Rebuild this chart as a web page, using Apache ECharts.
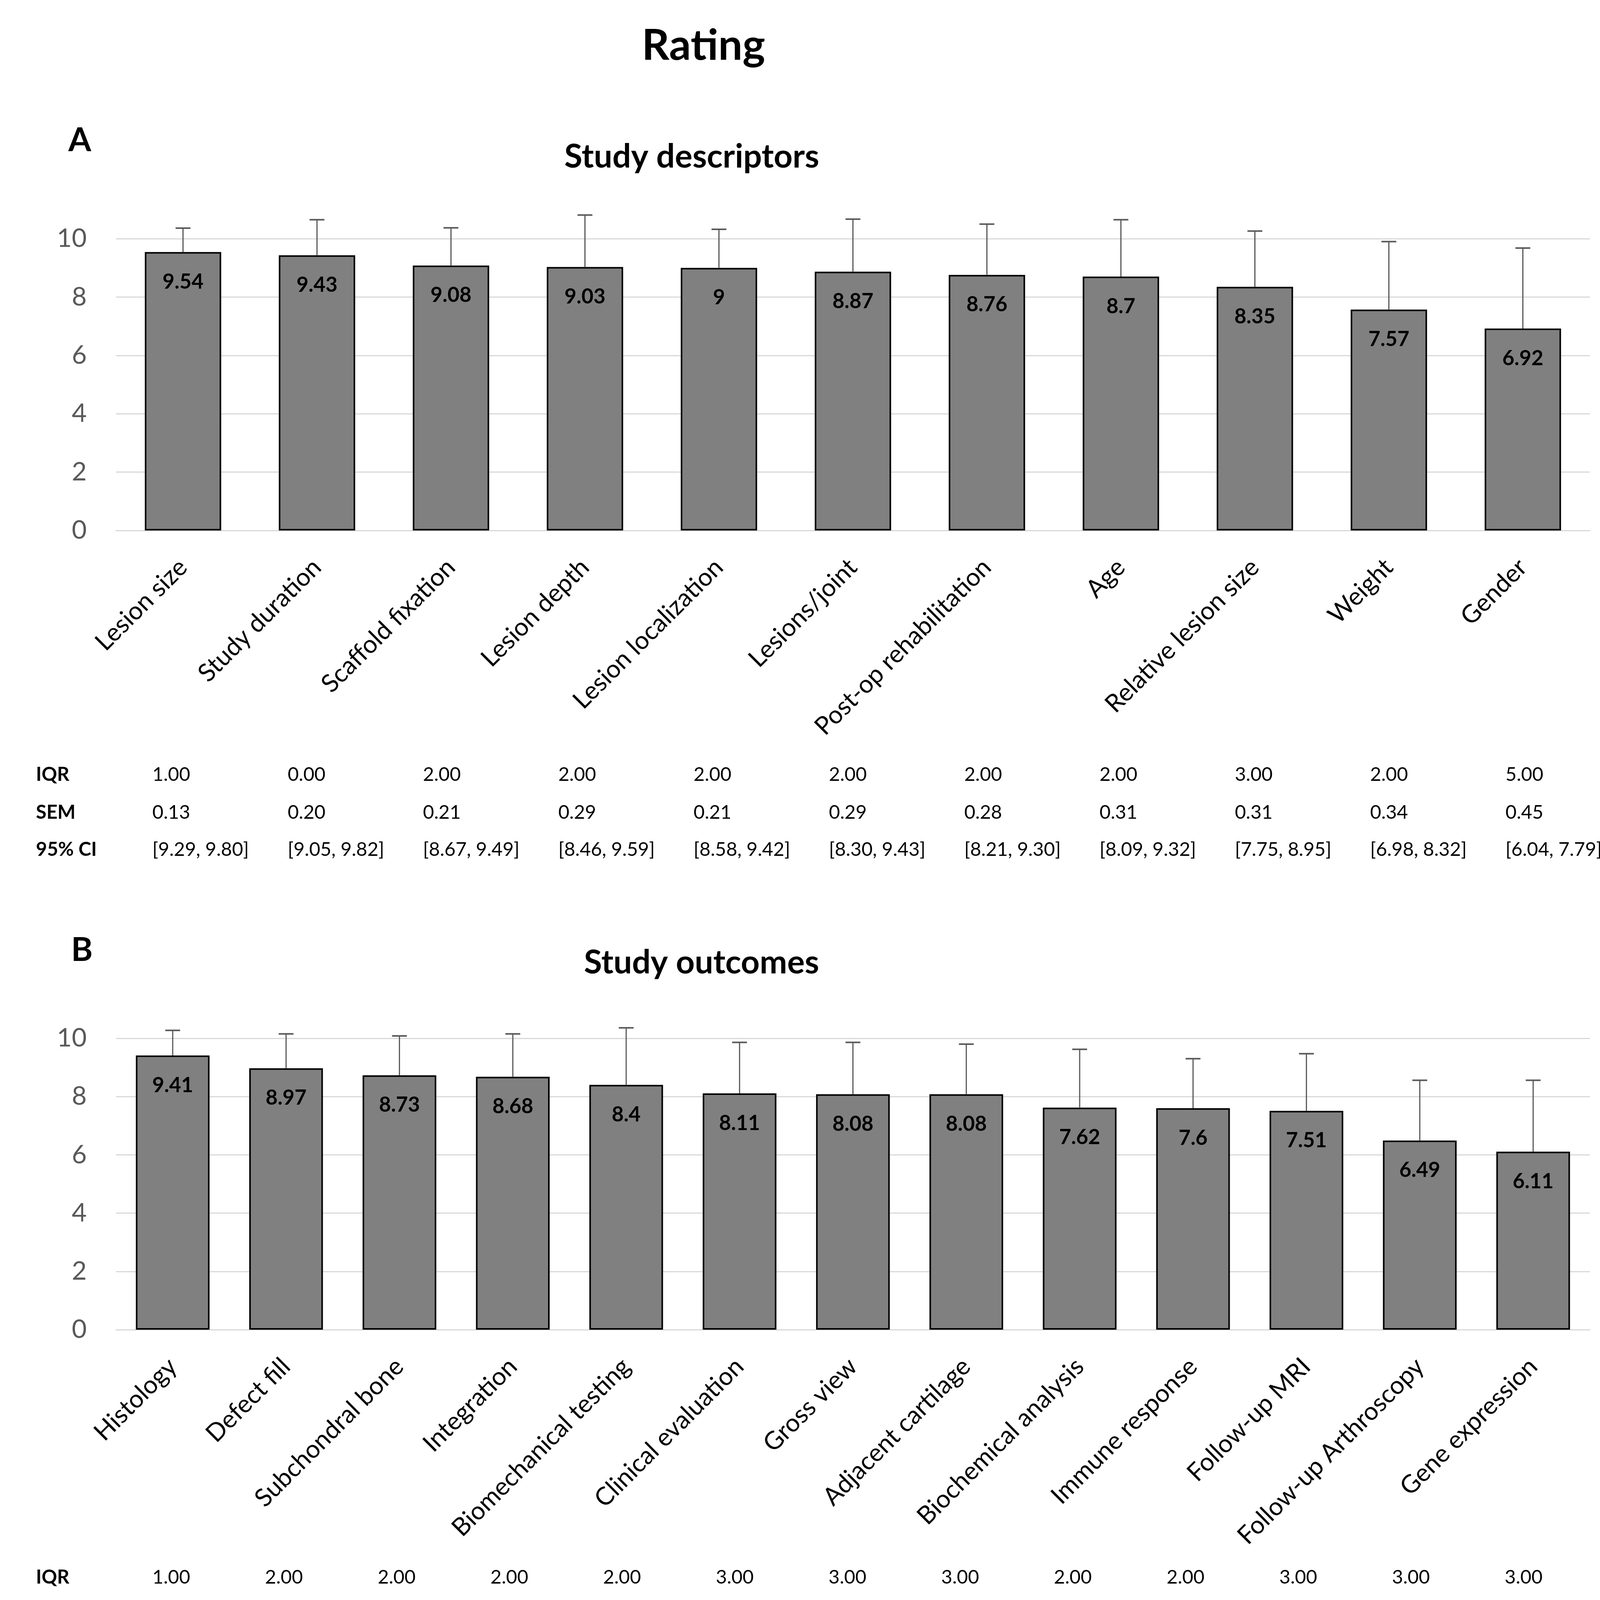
<!DOCTYPE html>
<html>
<head>
<meta charset="utf-8">
<script src="https://cdn.jsdelivr.net/npm/echarts@6/dist/echarts.min.js"></script>
<style>
html,body{margin:0;padding:0;background:#fff;}
#c{width:4151px;height:4328px;}
</style>
</head>
<body>
<div id="c"></div>
<script>
// ---------- Data ----------
const catA = ['Lesion size','Study duration','Scaffold fixation','Lesion depth','Lesion localization','Lesions/joint','Post-op rehabilitation','Age','Relative lesion size','Weight','Gender'];
const meanA = [9.54, 9.43, 9.08, 9.03, 9, 8.87, 8.76, 8.7, 8.35, 7.57, 6.92];
const errUpperA = [10.36, 10.65, 10.37, 10.81, 10.32, 10.67, 10.50, 10.65, 10.26, 9.90, 9.68];
const iqrA = [1.00, 0.00, 2.00, 2.00, 2.00, 2.00, 2.00, 2.00, 3.00, 2.00, 5.00];
const semA = [0.13, 0.20, 0.21, 0.29, 0.21, 0.29, 0.28, 0.31, 0.31, 0.34, 0.45];
const ciLowA = [9.29, 9.05, 8.67, 8.46, 8.58, 8.30, 8.21, 8.09, 7.75, 6.98, 6.04];
const ciHighA = [9.80, 9.82, 9.49, 9.59, 9.42, 9.43, 9.30, 9.32, 8.95, 8.32, 7.79];

const catB = ['Histology','Defect fill','Subchondral bone','Integration','Biomechanical testing','Clinical evaluation','Gross view','Adjacent cartilage','Biochemical analysis','Immune response','Follow-up MRI','Follow-up Arthroscopy','Gene expression'];
const meanB = [9.41, 8.97, 8.73, 8.68, 8.4, 8.11, 8.08, 8.08, 7.62, 7.6, 7.51, 6.49, 6.11];
const errUpperB = [10.27, 10.15, 10.08, 10.15, 10.36, 9.86, 9.86, 9.80, 9.62, 9.30, 9.47, 8.56, 8.56];
const iqrB = [1.00, 2.00, 2.00, 2.00, 2.00, 3.00, 3.00, 3.00, 2.00, 2.00, 3.00, 3.00, 3.00];
const semB = [0.14, 0.20, 0.22, 0.24, 0.32, 0.29, 0.29, 0.28, 0.23, 0.28, 0.32, 0.34, 0.40];
const ciLowB = [9.13, 8.59, 8.30, 8.20, 7.78, 7.55, 7.51, 7.53, 7.67, 7.05, 6.89, 5.83, 5.33];
const ciHighB = [9.68, 9.36, 9.16, 9.15, 9.03, 8.67, 8.65, 8.63, 8.55, 8.14, 8.14, 7.15, 6.89];

const yTicks = [0, 2, 4, 6, 8, 10];
const rowLabels = ['IQR', 'SEM', '95% CI'];

// ---------- Chart ----------
const FONT = 'Lato, "Open Sans", sans-serif';
const chart = echarts.init(document.getElementById('c'), null, {renderer: 'canvas'});

function yAxis(gi) {
  return {
    type: 'value', gridIndex: gi, min: yTicks[0], max: yTicks[yTicks.length - 1], interval: yTicks[1] - yTicks[0],
    axisLine: {show: false}, axisTick: {show: false},
    axisLabel: {fontFamily: FONT, fontSize: 66, color: '#595959', margin: 75},
    splitLine: {lineStyle: {color: '#d9d9d9', width: 3}}
  };
}
function xAxis(gi, cats) {
  return {
    type: 'category', gridIndex: gi, data: cats,
    axisLine: {lineStyle: {color: '#d9d9d9', width: 3}}, axisTick: {show: false},
    axisLabel: {fontFamily: FONT, fontSize: 64, color: '#000', rotate: 45, margin: 84, interval: 0}
  };
}
function barSeries(gi, vals, gap) {
  return {
    type: 'bar', xAxisIndex: gi, yAxisIndex: gi, data: vals, barCategoryGap: gap,
    itemStyle: {color: '#808080', borderColor: '#000', borderWidth: 4},
    label: {show: true, position: 'insideTop', distance: 50, fontFamily: FONT, fontWeight: 'bold', fontSize: 53, color: '#000'},
    z: 2
  };
}
function errSeries(gi, vals, ups) {
  return {
    type: 'custom', xAxisIndex: gi, yAxisIndex: gi, clip: false, z: 3, silent: true,
    data: vals.map((v, i) => [i, v, ups[i]]),
    renderItem: function (params, api) {
      const p0 = api.coord([api.value(0), api.value(1)]);
      const p1 = api.coord([api.value(0), api.value(2)]);
      const hw = 19;
      return {type: 'group', children: [
        {type: 'line', shape: {x1: p0[0], y1: p0[1], x2: p1[0], y2: p1[1]}, style: {stroke: '#595959', lineWidth: 3}},
        {type: 'line', shape: {x1: p1[0] - hw, y1: p1[1], x2: p1[0] + hw, y2: p1[1]}, style: {stroke: '#595959', lineWidth: 4}}
      ]};
    }
  };
}

// table + titles as text
const graphics = [];
function txt(x, y, s, size, bold, align) {
  graphics.push({type: 'text', x: x, y: y, style: {text: s, fontFamily: FONT, fontSize: size, fontWeight: bold ? 'bold' : 'normal', fill: '#000', textAlign: align || 'left', textVerticalAlign: 'middle'}});
}
txt(1801, 118, 'Rating', 110, true, 'center');
txt(175, 360, 'A', 84, true, 'left');
txt(1771, 402, 'Study descriptors', 84, true, 'center');
txt(182, 2433, 'B', 84, true, 'left');
txt(1796, 2465, 'Study outcomes', 84, true, 'center');

function table(rowsY, x0, step, iqr, sem, lo, hi) {
  rowLabels.forEach((r, k) => txt(92, rowsY[k], r, 49, true, 'left'));
  iqr.forEach((v, i) => {
    const x = x0 + step * i;
    txt(x, rowsY[0], v.toFixed(2), 49, false, 'left');
    txt(x, rowsY[1], sem[i].toFixed(2), 49, false, 'left');
    txt(x, rowsY[2], '[' + lo[i].toFixed(2) + ', ' + hi[i].toFixed(2) + ']', 49, false, 'left');
  });
}
table([1983, 2080, 2175], 390, 346.4, iqrA, semA, ciLowA, ciHighA);
table([4038, 4140, 4238], 390, 288.5, iqrB, semB, ciLowB, ciHighB);

chart.setOption({
  animation: false,
  backgroundColor: '#fff',
  grid: [
    {left: 297, top: 611, width: 3773, height: 747},
    {left: 297, top: 2658, width: 3773, height: 746}
  ],
  xAxis: [xAxis(0, catA), xAxis(1, catB)],
  yAxis: [yAxis(0), yAxis(1)],
  series: [
    barSeries(0, meanA, '43%'), errSeries(0, meanA, errUpperA),
    barSeries(1, meanB, '35%'), errSeries(1, meanB, errUpperB)
  ],
  graphic: graphics
});
</script>
</body>
</html>
